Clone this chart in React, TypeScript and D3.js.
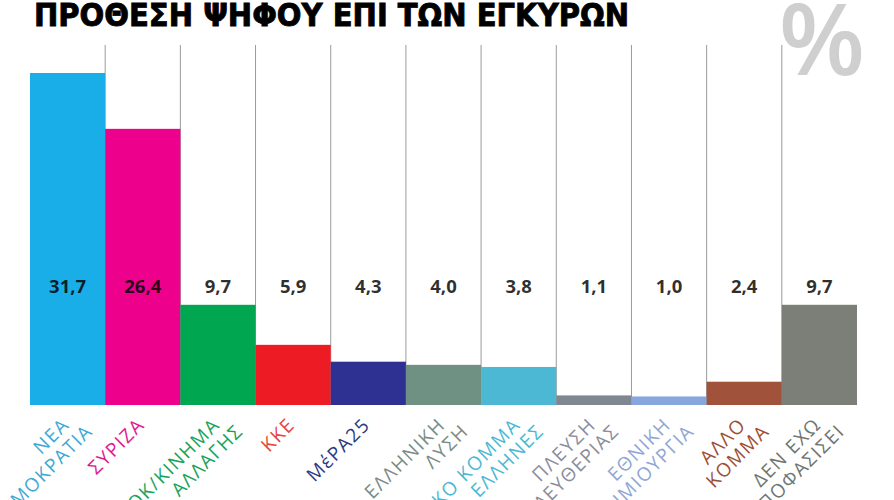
import React from 'react';
import * as d3 from 'd3';

// Vote intention on valid ballots (%)
const title = 'ΠΡΟΘΕΣΗ ΨΗΦΟΥ ΕΠΙ ΤΩΝ ΕΓΚΥΡΩΝ';
const parties = ['ND', 'SYRIZA', 'PASOK', 'KKE', 'MERA25', 'EL', 'ELLINES', 'PLEFSI', 'ETHDIM', 'ALLO', 'ADIEVK'];
const labelLines: string[][] = [
  ['ΝΕΑ', 'ΔΗΜΟΚΡΑΤΙΑ'],
  ['ΣΥΡΙΖΑ'],
  ['ΠΑΣΟΚ/ΚΙΝΗΜΑ', 'ΑΛΛΑΓΗΣ'],
  ['ΚΚΕ'],
  ['ΜέΡΑ25'],
  ['ΕΛΛΗΝΙΚΗ', 'ΛΥΣΗ'],
  ['ΕΘΝΙΚΟ ΚΟΜΜΑ', 'ΕΛΛΗΝΕΣ'],
  ['ΠΛΕΥΣΗ', 'ΕΛΕΥΘΕΡΙΑΣ'],
  ['ΕΘΝΙΚΗ', 'ΔΗΜΙΟΥΡΓΙΑ'],
  ['ΑΛΛΟ', 'ΚΟΜΜΑ'],
  ['ΔΕΝ ΕΧΩ', 'ΑΠΟΦΑΣΙΣΕΙ'],
];
const values = [31.7, 26.4, 9.7, 5.9, 4.3, 4.0, 3.8, 1.1, 1.0, 2.4, 9.7];
const barColors = ['#19aee8', '#ec008c', '#00a650', '#ed1c24', '#2e3192', '#6e9183', '#4cb8d3', '#7f8890', '#86a6dd', '#a0533a', '#7b7f78'];
const labelColors = ['#3fa9d5', '#e0198f', '#18a35a', '#e8433d', '#2e3a80', '#7a8c86', '#4cb8d3', '#8a8e9c', '#8fa6d6', '#a04e32', '#6f7670'];

const W = 894;
const H = 500;
const baseY = 405;

const x = d3.scaleBand<string>().domain(parties).range([30, 857]).padding(0);
const y = d3.scaleLinear().domain([0, 31.7]).range([407, 73]);
const fmt = (v: number) => d3.format('.1f')(v).replace('.', ',');

export default function App() {
  const bw = x.bandwidth();
  return (
    <svg
      width={W}
      height={H}
      viewBox={`0 0 ${W} ${H}`}
      style={{ position: 'absolute', left: 0, top: 0, background: '#fff' }}
    >
      <rect x={0} y={0} width={W} height={H} fill="#fff" />

      <text
        x={34}
        y={26}
        fontSize={31}
        fontWeight="bold"
        fontFamily="'Liberation Sans Narrow', 'DejaVu Sans Condensed', sans-serif"
        textLength={595}
        lengthAdjust="spacingAndGlyphs"
        fill="#000"
        stroke="#000"
        strokeWidth={0.8}
      >
        {title}
      </text>

      <text
        x={822}
        y={75}
        textAnchor="middle"
        fontSize={100}
        fontWeight={600}
        fontFamily="'Open Sans', sans-serif"
        fill="#cfcfcf"
      >
        %
      </text>

      {/* column separators */}
      {parties.slice(1).map((p) => (
        <line
          key={`sep-${p}`}
          x1={x(p)!}
          x2={x(p)!}
          y1={45}
          y2={baseY}
          stroke="#9a9a9a"
          strokeWidth={1}
        />
      ))}

      {/* bars */}
      {parties.map((p, i) => (
        <rect
          key={`bar-${p}`}
          x={x(p)!}
          y={y(values[i])}
          width={bw}
          height={baseY - y(values[i])}
          fill={barColors[i]}
        />
      ))}

      {/* value labels */}
      {parties.map((p, i) => (
        <text
          key={`val-${p}`}
          x={x(p)! + bw / 2}
          y={293}
          textAnchor="middle"
          fontSize={18.5}
          fontWeight="bold"
          fontFamily="'Open Sans', sans-serif"
          fill="#000"
          fillOpacity={0.82}
        >
          {fmt(values[i])}
        </text>
      ))}

      {/* category labels */}
      {parties.map((p, i) => (
        <g key={`lab-${p}`} transform={`translate(${x(p)! + bw / 2 + 3},426) rotate(-45)`}>
          {labelLines[i].map((line, j) => (
            <text
              key={j}
              x={j * 12}
              y={j * 21}
              textAnchor="end"
              fontSize={19}
              letterSpacing={1.5}
              fontFamily="'Open Sans', sans-serif"
              fill={labelColors[i]}
            >
              {line}
            </text>
          ))}
        </g>
      ))}
    </svg>
  );
}
